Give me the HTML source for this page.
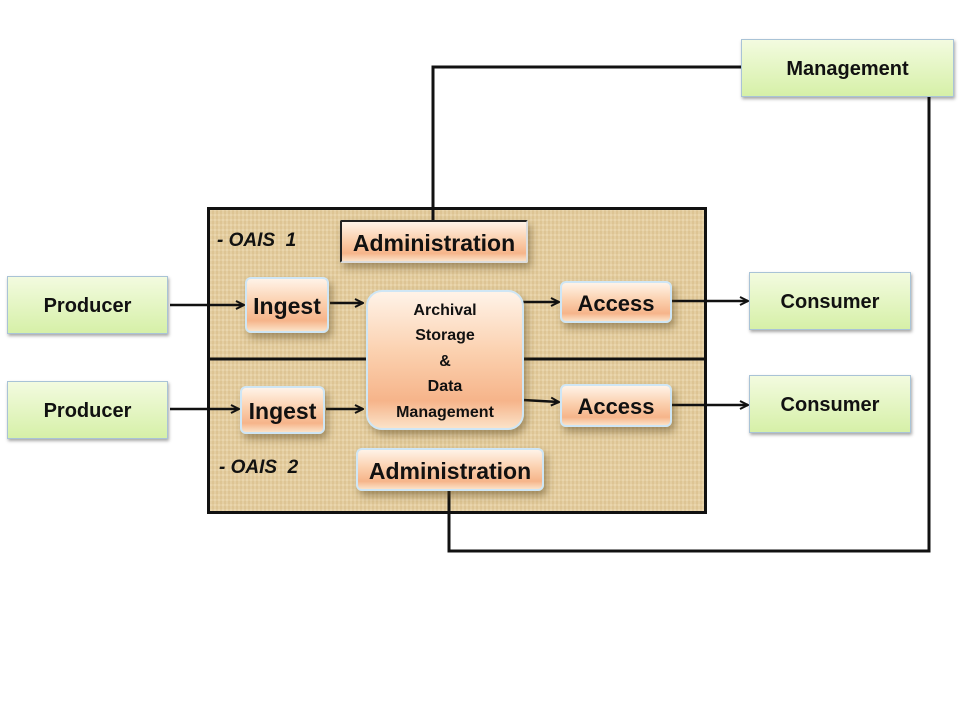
<!DOCTYPE html>
<html><head><style>
body{margin:0;width:960px;height:720px;background:#fff;position:relative;overflow:hidden;font-family:"Liberation Sans",sans-serif}
.b{position:absolute;box-sizing:border-box;display:flex;align-items:center;justify-content:center;text-align:center;font-weight:bold;color:#111;padding-top:3px}
.g{background:linear-gradient(#f3fbe0,#d6f0a8);border:1px solid #a9c3d6;box-shadow:1px 2px 3px rgba(0,0,0,.35);font-size:20px}
.o{background:linear-gradient(#fff3e8 0%,#fbd0ae 45%,#f6b48a 80%,#fbe2c8 100%);border:2px solid #cfe6f5;border-radius:6px;box-shadow:3px 5px 8px rgba(80,60,20,.45);font-size:22px}
.big{position:absolute;left:207px;top:207px;width:500px;height:307px;box-sizing:border-box;border:3px solid #111;
background:repeating-linear-gradient(90deg,rgba(255,255,255,.08) 0 2px,rgba(150,110,50,.06) 2px 4px),repeating-linear-gradient(0deg,rgba(255,255,255,.07) 0 2px,rgba(150,110,50,.05) 2px 5px),#e6cf9f}
.lab{position:absolute;font-style:italic;font-weight:bold;font-size:19px;color:#111}
</style></head><body>
<div class="big"></div>
<svg width="960" height="720" style="position:absolute;left:0;top:0">
<defs><marker id="a" markerWidth="10" markerHeight="10" refX="9" refY="5" orient="auto" markerUnits="userSpaceOnUse"><path d="M1,1 L9,5 L1,9" fill="none" stroke="#111" stroke-width="2"/></marker></defs>
<g stroke="#111" stroke-width="3" fill="none">
<line x1="207" y1="359" x2="706" y2="359"/>
<polyline points="433,220 433,67 741,67"/>
<polyline points="929,96 929,551 449,551 449,490"/>
</g>
<g stroke="#111" stroke-width="2.5" marker-end="url(#a)">
<line x1="170" y1="305" x2="244" y2="305"/>
<line x1="330" y1="303" x2="363" y2="303"/>
<line x1="523" y1="302" x2="559" y2="302"/>
<line x1="671" y1="301" x2="748" y2="301"/>
<line x1="170" y1="409" x2="239" y2="409"/>
<line x1="326" y1="409" x2="363" y2="409"/>
<line x1="523" y1="400" x2="559" y2="402"/>
<line x1="671" y1="405" x2="748" y2="405"/>
</g>
</svg>
<div class="lab" style="left:217px;top:230px">- OAIS&nbsp; 1</div>
<div class="lab" style="left:219px;top:457px">- OAIS&nbsp; 2</div>
<div class="b o" style="left:340px;top:220px;width:188px;height:43px;border-radius:2px;border-color:#222 #ddd #ddd #222;font-size:23px">Administration</div>
<div class="b o" style="left:356px;top:448px;width:188px;height:43px;font-size:23px">Administration</div>
<div class="b o" style="left:245px;top:277px;width:84px;height:56px;font-size:23px">Ingest</div>
<div class="b o" style="left:240px;top:386px;width:85px;height:48px;font-size:23px">Ingest</div>
<div class="b o" style="left:366px;top:290px;width:158px;height:140px;border-radius:16px;font-size:16px;line-height:25.5px">Archival<br>Storage<br>&amp;<br>Data<br>Management</div>
<div class="b o" style="left:560px;top:281px;width:112px;height:42px">Access</div>
<div class="b o" style="left:560px;top:384px;width:112px;height:43px">Access</div>
<div class="b g" style="left:7px;top:276px;width:161px;height:58px">Producer</div>
<div class="b g" style="left:7px;top:381px;width:161px;height:58px">Producer</div>
<div class="b g" style="left:749px;top:272px;width:162px;height:58px">Consumer</div>
<div class="b g" style="left:749px;top:375px;width:162px;height:58px">Consumer</div>
<div class="b g" style="left:741px;top:39px;width:213px;height:58px">Management</div>
</body></html>
